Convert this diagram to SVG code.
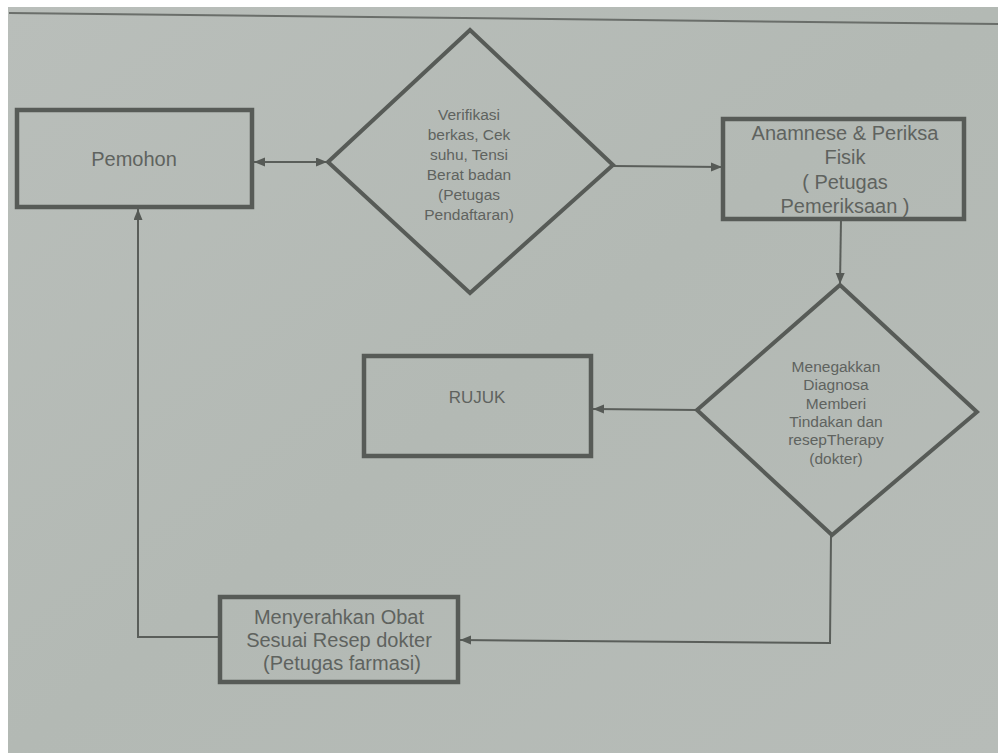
<svg xmlns="http://www.w3.org/2000/svg" width="998" height="753" viewBox="0 0 998 753">
<defs>
<linearGradient id="bg" x1="0" y1="0" x2="1" y2="1">
<stop offset="0" stop-color="#b9beba"/>
<stop offset="0.5" stop-color="#b3b9b4"/>
<stop offset="1" stop-color="#b7bcb8"/>
</linearGradient>
<marker id="ah" markerUnits="userSpaceOnUse" markerWidth="12" markerHeight="10" refX="11" refY="4.5" orient="auto-start-reverse">
<path d="M0,0 L11,4.5 L0,9 z" fill="#565a56"/>
</marker>
</defs>
<style>
.box{fill:none;stroke:#575b57;stroke-width:4.5}
.dia{fill:none;stroke:#575b57;stroke-width:4;stroke-linejoin:miter}
.con{fill:none;stroke:#5a5e5a;stroke-width:2}
.t{font-family:"Liberation Sans",Arial,sans-serif;fill:#5f635f;text-anchor:middle}
.t20{font-size:20px}
.t15{font-size:15.5px}
.t17{font-size:17px}
</style>
<rect x="0" y="0" width="998" height="753" fill="#ffffff"/>
<rect x="8" y="7" width="990" height="746" fill="url(#bg)"/>
<line x1="9" y1="13" x2="998" y2="24" stroke="#6a6e6a" stroke-width="2"/>

<g id="connectors">
<line class="con" x1="254" y1="162" x2="327" y2="162" marker-start="url(#ah)" marker-end="url(#ah)"/>
<line class="con" x1="613" y1="166" x2="722" y2="167" marker-end="url(#ah)"/>
<line class="con" x1="841" y1="219" x2="840" y2="284" marker-end="url(#ah)"/>
<line class="con" x1="697" y1="410" x2="593" y2="409" marker-end="url(#ah)"/>
<polyline class="con" points="831,536 830,643 460,640" marker-end="url(#ah)"/>
<polyline class="con" points="220,637 138,637 138,209" marker-end="url(#ah)"/>
</g>

<g id="pemohon">
<rect class="box" x="17" y="110" width="235" height="97"/>
<text class="t t20" x="134" y="166">Pemohon</text>
</g>

<g id="verifikasi">
<polygon class="dia" points="470,30 613,165 470,293 328,162"/>
<text class="t t15" x="469" y="119.5">Verifikasi</text>
<text class="t t15" x="469" y="140">berkas, Cek</text>
<text class="t t15" x="469" y="160">suhu, Tensi</text>
<text class="t t15" x="469" y="180">Berat badan</text>
<text class="t t15" x="469" y="200">(Petugas</text>
<text class="t t15" x="469" y="219.5">Pendaftaran)</text>
</g>

<g id="anamnese">
<rect class="box" x="723" y="119" width="241" height="100"/>
<text class="t t20" x="845" y="140">Anamnese &amp; Periksa</text>
<text class="t t20" x="845" y="164">Fisik</text>
<text class="t t20" x="845" y="189">( Petugas</text>
<text class="t t20" x="845" y="213">Pemeriksaan )</text>
</g>

<g id="diagnosa">
<polygon class="dia" points="840,285 977,412 832,535 697,410"/>
<text class="t t15" x="836" y="371.5">Menegakkan</text>
<text class="t t15" x="836" y="389.5">Diagnosa</text>
<text class="t t15" x="836" y="408.5">Memberi</text>
<text class="t t15" x="836" y="426.5">Tindakan dan</text>
<text class="t t15" x="836" y="444.5">resepTherapy</text>
<text class="t t15" x="836" y="463.5">(dokter)</text>
</g>

<g id="rujuk">
<rect class="box" x="364" y="356" width="227" height="100"/>
<text class="t t17" x="477" y="403">RUJUK</text>
</g>

<g id="farmasi">
<rect class="box" x="220" y="597" width="238" height="85"/>
<text class="t t20" x="339" y="624">Menyerahkan Obat</text>
<text class="t t20" x="339" y="647">Sesuai Resep dokter</text>
<text class="t t20" x="342" y="670">(Petugas farmasi)</text>
</g>
</svg>
